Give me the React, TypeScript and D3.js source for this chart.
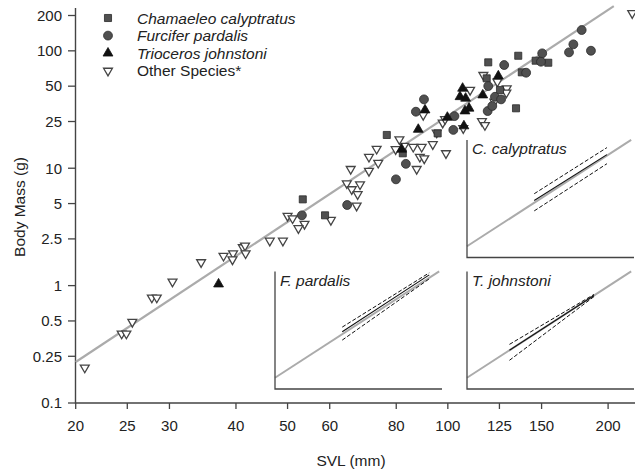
import * as d3 from "d3";
import React from "react";

// tick values
const svlTicks = [20, 25, 30, 40, 50, 60, 80, 100, 125, 150, 200];
const massTicks = [0.1, 0.25, 0.5, 1, 2.5, 5, 10, 25, 50, 100, 200];

// [SVL mm, body mass g]
const chamaeleo = [
  [53.4, 5.43], [58.8, 3.97], [76.8, 19.2], [82.3, 13.4], [95.7, 19.8],
  [118.3, 58.3], [125.3, 46.4], [119.1, 79.8], [135.6, 90.8], [137.7, 65.6],
  [134.3, 32.4], [146.2, 82.4], [154.4, 79.2],
];
const furcifer = [
  [53.2, 3.97], [64.7, 4.86], [79.9, 8.04], [83.4, 10.9], [87.1, 30.3],
  [90.2, 38.6], [102.4, 21.2], [102.9, 27.8], [118.8, 30.7], [121.2, 33.9],
  [122.6, 40.6], [125.9, 38.6], [119.1, 50.1], [127.6, 75.7], [140.3, 65.1],
  [150.4, 95.2], [149.6, 80.8], [178.4, 150.4], [172.1, 113.6], [168.9, 97.1],
  [185.7, 100.2],
];
const trioceros = [
  [37.1, 1.03], [81.9, 14.5], [88.0, 21.4], [90.6, 31.3], [99.8, 27.1],
  [107.2, 22.9], [106.6, 47.9], [105.4, 40.6], [108.0, 39.4], [109.6, 32.4],
  [107.7, 30.7], [116.3, 42.0], [124.4, 61.0],
];
const others = [
  [20.8, 0.2], [24.4, 0.39], [24.9, 0.39], [25.55, 0.49], [27.8, 0.79],
  [28.4, 0.79], [30.4, 1.08], [34.4, 1.58], [37.9, 1.79], [39.5, 1.88],
  [39.4, 1.67], [41.2, 2.12], [41.6, 2.19], [41.7, 1.88], [46.3, 2.41],
  [49.0, 2.41], [50.0, 3.92], [51.1, 3.74], [53.8, 3.35], [52.4, 3.08],
  [60.3, 3.62], [67.4, 4.79], [64.6, 7.43], [66.0, 6.61], [67.7, 6.0],
  [68.4, 7.29], [65.7, 9.84], [71.1, 9.47], [71.1, 12.5], [73.5, 14.6],
  [74.0, 11.1], [79.8, 14.5], [81.1, 17.6], [82.8, 15.5], [86.1, 15.2],
  [89.3, 15.2], [88.6, 12.5], [90.3, 12.1], [87.4, 9.84], [89.9, 28.4],
  [93.7, 16.0], [99.2, 13.4], [95.3, 20.1], [97.8, 24.4], [106.9, 21.9],
  [115.9, 25.2], [117.4, 23.3], [110.1, 46.4], [122.3, 36.8], [116.6, 62.2],
  [123.9, 54.6], [129.0, 47.9], [128.8, 44.0], [222, 209], [98.8, 26.2],
];

const legendLabels = ["Chamaeleo calyptratus", "Furcifer pardalis", "Trioceros johnstoni", "Other Species*"];

// overall fit: log10(mass) = a + b*log10(SVL)
const regIntercept = -4.554;
const regSlope = 3;
const regRange = [20, 205];

// species fits shown in the insets: [start, end]
const fitNames = ["C. calyptratus", "F. pardalis", "T. johnstoni"];
const fitSVL = [[53, 152], [53, 187], [37, 126]];
const fitMass = [[4.8, 105], [4.9, 223], [1.42, 56]];
const fitUpper = [[7.6, 168], [6.7, 256], [2.1, 60]];
const fitLower = [[2.4, 57], [2.8, 171], [0.72, 52]];

const W = 635;
const H = 469;
const FONT = "'Liberation Sans', Arial, Helvetica, sans-serif";
const DARK = "#505050";
const EDGE = "#2a2a2a";
const AXIS = "#444";
const GREY = "#ababab";

const x = d3.scaleLog().domain([20, 200]).range([75.7, 608.1]);
const y = d3.scaleLog().domain([0.1, 200]).range([403, 15.5]);

const sq = d3.symbol().type(d3.symbolSquare).size(50)();
const circ = d3.symbol().type(d3.symbolCircle).size(62)();
const tri = d3.symbol().type(d3.symbolTriangle).size(42)();
const dtri = d3.symbol().type(d3.symbolTriangle).size(34)();

const regLine = (sx, sy) =>
  d3
    .line()
    .x((d) => sx(d))
    .y((d) => sy(Math.pow(10, regIntercept + regSlope * Math.log10(d))));

function Inset({ left, top, idx }) {
  const iw = 167;
  const ih = 117.5;
  const ix = d3.scaleLog().domain([20, 225]).range([0, iw]);
  const iy = d3.scaleLog().domain([0.105, 280]).range([ih, 0]);
  const seg = (ys) =>
    d3
      .line()
      .x((d) => ix(d[0]))
      .y((d) => iy(d[1]))(fitSVL[idx].map((s, i) => [s, ys[i]]));
  return (
    <g transform={`translate(${left},${top})`}>
      <path d={regLine(ix, iy)([20, 216])} stroke={GREY} strokeWidth={2} fill="none" />
      <path d={seg(fitMass[idx])} stroke="#111" strokeWidth={1.1} fill="none" />
      <path d={seg(fitUpper[idx])} stroke="#111" strokeWidth={1} strokeDasharray="4,2" fill="none" />
      <path d={seg(fitLower[idx])} stroke="#111" strokeWidth={1} strokeDasharray="4,2" fill="none" />
      <path d={`M0,0V${ih}H${iw}`} stroke={AXIS} strokeWidth={1.3} fill="none" />
      <text x={5} y={14} fontSize={15.5} fontStyle="italic" fill="#222">
        {fitNames[idx]}
      </text>
    </g>
  );
}

export default function App() {
  const pt = (d) => `translate(${x(d[0])},${y(d[1])})`;
  const legendShapes = [
    <path d={sq} fill={DARK} stroke={EDGE} strokeWidth={0.8} />,
    <path d={circ} fill={DARK} stroke={EDGE} strokeWidth={0.8} />,
    <path d={tri} fill="#111" stroke="#111" strokeWidth={0.8} />,
    <path d={dtri} transform="rotate(180)" fill="#fff" stroke={AXIS} strokeWidth={1.3} />,
  ];
  return (
    <svg
      width={W}
      height={H}
      style={{ position: "absolute", left: 0, top: 0, background: "#fff" }}
      fontFamily={FONT}
    >
      {/* axes */}
      <path d={`M75.5,8V403H${W}`} stroke={AXIS} strokeWidth={1.4} fill="none" />
      {massTicks.map((t) => (
        <g key={"y" + t}>
          <line x1={68} x2={75.5} y1={y(t)} y2={y(t)} stroke={AXIS} strokeWidth={1.3} />
          <text x={62} y={y(t) + 5.3} fontSize={15} textAnchor="end" fill="#222">
            {String(t)}
          </text>
        </g>
      ))}
      {svlTicks.map((t) => (
        <g key={"x" + t}>
          <line x1={x(t)} x2={x(t)} y1={403} y2={409} stroke={AXIS} strokeWidth={1.3} />
          <text x={x(t)} y={431} fontSize={15} textAnchor="middle" fill="#222">
            {String(t)}
          </text>
        </g>
      ))}
      <text x={351} y={466} fontSize={15.5} textAnchor="middle" fill="#222">
        SVL (mm)
      </text>
      <text transform="translate(24.5,207) rotate(-90)" fontSize={15.5} textAnchor="middle" fill="#222">
        Body Mass (g)
      </text>

      {/* overall regression */}
      <path d={regLine(x, y)(regRange)} stroke={GREY} strokeWidth={2.2} fill="none" />

      {/* points */}
      {others.map((d, i) => (
        <path key={"o" + i} d={dtri} transform={`${pt(d)} rotate(180)`} fill="#fff" stroke={AXIS} strokeWidth={1.3} />
      ))}
      {chamaeleo.map((d, i) => (
        <path key={"c" + i} d={sq} transform={pt(d)} fill={DARK} stroke={EDGE} strokeWidth={0.8} />
      ))}
      {furcifer.map((d, i) => (
        <path key={"f" + i} d={circ} transform={pt(d)} fill={DARK} stroke={EDGE} strokeWidth={0.8} />
      ))}
      {trioceros.map((d, i) => (
        <path key={"t" + i} d={tri} transform={pt(d)} fill="#111" stroke="#111" strokeWidth={0.8} />
      ))}

      {/* legend */}
      {legendLabels.map((l, i) => (
        <g key={l} transform={`translate(108,${18 + i * 17.6})`}>
          {legendShapes[i]}
          <text x={29} y={5.5} fontSize={15.5} fontStyle={i < 3 ? "italic" : "normal"} fill="#222">
            {l}
          </text>
        </g>
      ))}

      {/* insets */}
      <Inset left={467} top={140} idx={0} />
      <Inset left={275} top={271.5} idx={1} />
      <Inset left={467} top={271.5} idx={2} />
    </svg>
  );
}
